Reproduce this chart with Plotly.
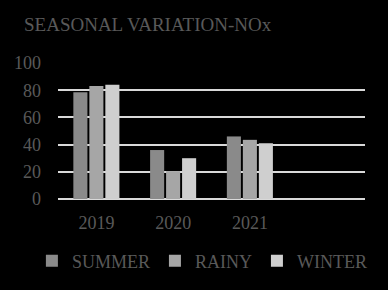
import plotly.graph_objects as go

years = ["2019", "2020", "2021"]
summer = [78.5, 36, 46]
rainy = [83, 20.5, 43.5]
winter = [84, 30, 41]
series_names = ["SUMMER", "RAINY", "WINTER"]
colors = ["#8a8a8a", "#a6a6a6", "#cfcfcf"]
yticks = [0, 20, 40, 60, 80, 100]

x = list(range(len(years)))
fig = go.Figure()
for name, vals, c in zip(series_names, [summer, rainy, winter], colors):
    fig.add_trace(go.Bar(x=x, y=vals, name=name, marker=dict(color=c, line=dict(width=0))))

font = "Liberation Serif, Times New Roman, serif"
fig.update_layout(
    width=388, height=290,
    paper_bgcolor="#000000", plot_bgcolor="#000000",
    margin=dict(l=58, r=23, t=63, b=91, autoexpand=False),
    barmode="group", bargap=0.375, bargroupgap=0.12,
    font=dict(family=font, size=18, color="#595959"),
    title=dict(text="SEASONAL VARIATION-NOx", x=24/388, xanchor="left", y=1-24/290, yanchor="middle",
               font=dict(family=font, size=19, color="#595959")),
    showlegend=True,
    legend=dict(orientation="h", x=-0.085, xanchor="left", y=-0.456, yanchor="middle",
                font=dict(family=font, size=18, color="#595959"), itemwidth=30,
                traceorder="normal", bgcolor="rgba(0,0,0,0)"),
    xaxis=dict(range=[-0.5, 3.5], tickvals=x, ticktext=years, showgrid=False, zeroline=False,
               showline=False, ticks="", ticklabelstandoff=11, tickfont=dict(size=18, color="#595959")),
    yaxis=dict(range=[0, 100], tickvals=yticks, showgrid=True, gridcolor="#d9d9d9", gridwidth=2,
               zeroline=True, zerolinecolor="#d9d9d9", zerolinewidth=2, showline=False,
               ticks="", ticklabelstandoff=16, tickfont=dict(size=18, color="#595959")),
)
fig.write_html("out.html")
